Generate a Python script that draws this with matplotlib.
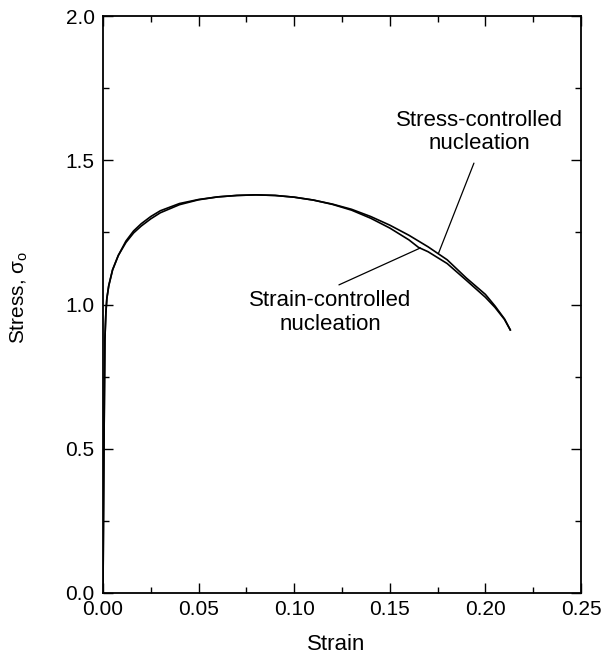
import matplotlib
matplotlib.use("Agg")
import matplotlib.pyplot as plt
from matplotlib.ticker import MultipleLocator, FormatStrFormatter

plt.rcParams['font.family'] = ['Liberation Sans', 'DejaVu Sans']

# ---- data ----
strain_stress_ctrl = [0, 0.0005, 0.001, 0.0015, 0.002, 0.003, 0.005, 0.008, 0.012, 0.016,
                      0.02, 0.025, 0.03, 0.04, 0.05, 0.06, 0.07, 0.08, 0.09, 0.10, 0.11,
                      0.12, 0.13, 0.14, 0.15, 0.16, 0.17, 0.18, 0.19, 0.20, 0.205, 0.21, 0.213]
stress_stress_ctrl = [0, 0.5, 0.88, 0.97, 1.02, 1.065, 1.12, 1.17, 1.22, 1.255,
                      1.28, 1.305, 1.325, 1.35, 1.364, 1.373, 1.378, 1.38, 1.378, 1.372, 1.362,
                      1.348, 1.33, 1.305, 1.275, 1.24, 1.2, 1.155, 1.092, 1.035, 0.995, 0.95, 0.912]

strain_strain_ctrl = [0, 0.0005, 0.001, 0.0015, 0.002, 0.003, 0.005, 0.008, 0.012, 0.016,
                      0.02, 0.025, 0.03, 0.04, 0.05, 0.06, 0.07, 0.08, 0.09, 0.10, 0.11,
                      0.12, 0.13, 0.14, 0.15, 0.16, 0.165, 0.17, 0.18, 0.19, 0.20, 0.205, 0.21, 0.213]
stress_strain_ctrl = [0, 0.5, 0.88, 0.97, 1.02, 1.065, 1.12, 1.17, 1.215, 1.248,
                      1.272, 1.297, 1.318, 1.346, 1.363, 1.373, 1.378, 1.38, 1.378, 1.372, 1.362,
                      1.347, 1.327, 1.299, 1.265, 1.224, 1.198, 1.183, 1.142, 1.084, 1.025, 0.99, 0.948, 0.912]

x_ticks = [0.00, 0.05, 0.10, 0.15, 0.20, 0.25]
y_ticks = [0.0, 0.5, 1.0, 1.5, 2.0]

label_stress = "Stress-controlled\nnucleation"
label_strain = "Strain-controlled\nnucleation"

# ---- figure ----
fig = plt.figure(figsize=(6.03, 6.54), dpi=100)
ax = fig.add_axes([103/603, 1 - 593/654, 478/603, 577/654])

ax.plot(strain_stress_ctrl, stress_stress_ctrl, color='black', lw=1.2)
ax.plot(strain_strain_ctrl, stress_strain_ctrl, color='black', lw=1.2)

ax.set_xlim(0, 0.25)
ax.set_ylim(0, 2.0)
ax.set_xticks(x_ticks)
ax.set_yticks(y_ticks)
ax.xaxis.set_major_formatter(FormatStrFormatter('%.2f'))
ax.yaxis.set_major_formatter(FormatStrFormatter('%.1f'))
ax.xaxis.set_minor_locator(MultipleLocator(0.025))
ax.yaxis.set_minor_locator(MultipleLocator(0.25))
ax.tick_params(which='both', direction='in', top=True, right=True, width=1.0)
ax.tick_params(which='major', length=7, labelsize=15)
ax.tick_params(which='minor', length=4)
ax.tick_params(axis='x', pad=5)
ax.tick_params(axis='y', pad=6)
for s in ax.spines.values():
    s.set_linewidth(1.3)

fig.text(336/603, 1 - 644/654, "Strain", ha='center', va='center', fontsize=16)
fig.text(19/603, 1 - 297/654, "Stress, σ$_\\mathregular{o}$", ha='center', va='center',
         rotation=90, fontsize=15)

ax.text(0.197, 1.598, label_stress, ha='center', va='center', fontsize=16, linespacing=1.15)
ax.text(0.119, 0.972, label_strain, ha='center', va='center', fontsize=16, linespacing=1.15)
ax.annotate("", xy=(0.1755, 1.178), xytext=(0.194, 1.49),
            arrowprops=dict(arrowstyle='-', color='black', lw=0.9, shrinkA=0, shrinkB=0))
ax.annotate("", xy=(0.166, 1.196), xytext=(0.1234, 1.068),
            arrowprops=dict(arrowstyle='-', color='black', lw=0.9, shrinkA=0, shrinkB=0))

fig.savefig("out.png", dpi=100)
